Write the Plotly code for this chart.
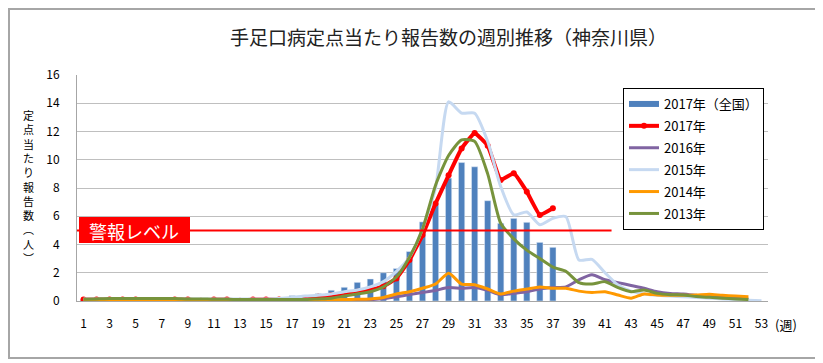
import plotly.graph_objects as go

weeks = list(range(1, 54))
tick_weeks = list(range(1, 54, 2))

national_2017 = [0.12, 0.13, 0.13, 0.13, 0.12, 0.12, 0.12, 0.12, 0.13, 0.13, 0.14, 0.15, 0.17,
                 0.19, 0.22, 0.26, 0.38, 0.4, 0.52, 0.76, 0.97, 1.32, 1.56, 2.0, 2.3, 3.5, 5.6,
                 6.9, 8.7, 9.8, 9.5, 7.1, 5.5, 5.85, 5.57, 4.15, 3.8]
kanagawa_2017 = [0.1, 0.1, 0.1, 0.1, 0.1, 0.02, 0.02, 0.1, 0.1, 0.02, 0.1, 0.1, 0.02, 0.1, 0.1,
                 0.1, 0.1, 0.1, 0.3, 0.4, 0.5, 0.66, 0.78, 1.05, 1.6, 2.9, 4.67, 6.9, 8.9, 10.8,
                 11.9, 11.0, 8.57, 9.04, 7.74, 6.09, 6.56]
kanagawa_2016 = [0.08, 0.08, 0.08, 0.08, 0.08, 0.08, 0.08, 0.08, 0.08, 0.08, 0.08, 0.08, 0.08,
                 0.08, 0.08, 0.08, 0.08, 0.08, 0.08, 0.08, 0.08, 0.1, 0.1, 0.15, 0.3, 0.45, 0.6,
                 0.75, 0.95, 0.9, 0.95, 0.75, 0.45, 0.55, 0.65, 0.85, 0.95, 1.0, 1.5, 1.85, 1.5,
                 1.3, 1.1, 0.9, 0.66, 0.54, 0.5, 0.4, 0.3, 0.25, 0.2, 0.15]
kanagawa_2015 = [0.15, 0.15, 0.15, 0.15, 0.15, 0.15, 0.15, 0.15, 0.15, 0.15, 0.15, 0.15, 0.15,
                 0.15, 0.15, 0.18, 0.25, 0.35, 0.4, 0.5, 0.66, 0.78, 1.0, 1.37, 2.1, 3.1, 5.1,
                 8.0, 14.1, 13.3, 13.3, 11.3, 8.1, 6.1, 6.3, 5.4, 5.85, 5.97, 2.9, 2.95, 2.0,
                 1.13, 0.7, 0.5, 0.4, 0.35, 0.3, 0.25, 0.2, 0.15, 0.1, 0.05, 0.02]
kanagawa_2014 = [0.08, 0.08, 0.08, 0.08, 0.08, 0.08, 0.08, 0.08, 0.08, 0.08, 0.08, 0.08, 0.08,
                 0.08, 0.08, 0.08, 0.08, 0.08, 0.08, 0.08, 0.1, 0.12, 0.15, 0.25, 0.5, 0.66, 0.9,
                 1.2, 1.96, 1.2, 1.15, 0.85, 0.5, 0.7, 0.85, 1.0, 0.9, 0.9, 0.7, 0.6, 0.66, 0.42,
                 0.2, 0.5, 0.42, 0.4, 0.4, 0.42, 0.48, 0.4, 0.35, 0.3]
kanagawa_2013 = [0.12, 0.15, 0.18, 0.18, 0.18, 0.18, 0.18, 0.18, 0.15, 0.15, 0.12, 0.12, 0.1,
                 0.1, 0.1, 0.1, 0.1, 0.1, 0.15, 0.2, 0.35, 0.5, 0.66, 1.0, 1.7, 3.1, 5.1, 8.2,
                 10.3, 11.4, 11.3, 9.0, 5.5, 4.4, 3.6, 3.0, 2.4, 2.1, 1.3, 1.2, 1.37, 0.94, 0.66,
                 0.78, 0.54, 0.45, 0.42, 0.32, 0.26, 0.2, 0.15, 0.1]
alarm_level = 5

W, H = 823, 363
OFF = 8  # page body margin
# plot area in page pixels
PL, PR, PT, PB = 77, 768, 75, 301
L, R, T, B = PL - OFF, PR - OFF, PT - OFF, PB - OFF  # in figure pixels


def px(x):  # page pixel -> paper x
    return (x - PL) / (PR - PL)


def py(y):  # page pixel -> paper y
    return (PB - y) / (PB - PT)


JP = "Noto Sans CJK JP"
fig = go.Figure()

fig.add_trace(go.Bar(x=weeks[:len(national_2017)], y=national_2017, marker_color="#4F81BD",
                     width=0.48, showlegend=False, name="2017年（全国）"))

# legend stand-in for bars (Excel draws a thick line sample)
fig.add_trace(go.Scatter(x=[None], y=[None], mode="lines", name="2017年（全国）",
                         line=dict(color="#4F81BD", width=6), legendgroup="a"))

line_series = [
    ("2017年", kanagawa_2017, "#FF0000", 4, "b"),
    ("2016年", kanagawa_2016, "#8064A2", 3, "c"),
    ("2015年", kanagawa_2015, "#C6D9F1", 3, "d"),
    ("2014年", kanagawa_2014, "#FF9900", 3, "e"),
    ("2013年", kanagawa_2013, "#77933C", 3, "f"),
]
for name, vals, color, w, grp in line_series:
    if name == "2017年":
        kw = dict(mode="lines+markers", marker=dict(size=6, color=color))
        ln = dict(color=color, width=w, shape="spline", smoothing=0.3)
    else:
        kw = dict(mode="lines")
        ln = dict(color=color, width=w, shape="spline", smoothing=0.6)
    fig.add_trace(go.Scatter(x=weeks[:len(vals)], y=vals, name=name, legendgroup=grp,
                             line=ln, **kw))

shapes = [
    # alarm level line
    dict(type="line", xref="x", yref="y", x0=0.5, x1=41.5, y0=alarm_level, y1=alarm_level,
         line=dict(color="#FF0000", width=2), layer="above"),
    # alarm label box
    dict(type="rect", xref="paper", yref="paper", x0=px(79), x1=px(190), y0=py(243), y1=py(217),
         fillcolor="#FF0000", line=dict(width=0), layer="above"),
    # outer chart border
    dict(type="rect", xref="paper", yref="paper", x0=px(OFF + 1), x1=px(817), y0=py(358),
         y1=py(OFF + 1), line=dict(color="#A6A6A6", width=2), fillcolor="rgba(0,0,0,0)"),
]

annotations = [
    dict(text="手足口病定点当たり報告数の週別推移（神奈川県）", xref="paper", yref="paper",
         x=px(449), y=py(37), showarrow=False, font=dict(family=JP, size=19, color="#222222"),
         xanchor="center", yanchor="middle"),
    dict(text="警報レベル", xref="paper", yref="paper", x=px(87), y=py(231), showarrow=False,
         font=dict(family=JP, size=18, color="white"), xanchor="left", yanchor="middle"),
    dict(text="(週)", xref="paper", yref="paper", x=px(786), y=py(324), showarrow=False,
         font=dict(family=JP, size=13, color="#000000"), xanchor="center", yanchor="middle"),
    dict(text="<br>".join(["定", "点", "当", "た", "り", "報", "告", "数", "︵", "人", "︶"]),
         xref="paper", yref="paper", x=px(28), y=py(186), showarrow=False,
         font=dict(family=JP, size=11, color="#000000"), xanchor="center", yanchor="middle"),
]

fig.update_layout(
    width=W, height=H,
    margin=dict(l=L, r=W - R, t=T, b=H - B, pad=0, autoexpand=False),
    paper_bgcolor="white", plot_bgcolor="white",
    showlegend=True,
    legend=dict(x=px(623), y=py(88), xanchor="left", yanchor="top",
                bordercolor="#000000", borderwidth=1, bgcolor="white",
                font=dict(family=JP, size=13, color="#000000"),
                traceorder="grouped", tracegroupgap=2, itemwidth=30),
    shapes=shapes, annotations=annotations,
    bargap=0.5,
    font=dict(family=JP),
)
fig.update_xaxes(range=[0.5, 53.5], tickvals=tick_weeks, ticktext=[str(w) for w in tick_weeks],
                 showgrid=False, showline=True, linecolor="#A6A6A6", linewidth=1,
                 ticks="", tickfont=dict(family=JP, size=12, color="#000000"),
                 ticklabelstandoff=12, zeroline=False, automargin=False)
fig.update_yaxes(range=[0, 16], tickvals=list(range(0, 17, 2)), showgrid=True,
                 gridcolor="#BFBFBF", gridwidth=1, showline=True, linecolor="#A6A6A6",
                 linewidth=1, ticks="", tickfont=dict(family=JP, size=12, color="#000000"),
                 ticklabelstandoff=14, zeroline=False, automargin=False)

fig.write_html("out.html")
